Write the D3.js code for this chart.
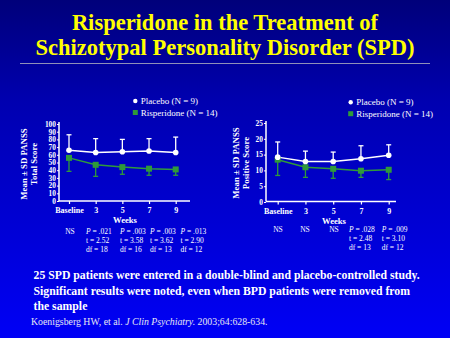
<!DOCTYPE html>
<html>
<head>
<meta charset="utf-8">
<script src="https://cdn.jsdelivr.net/npm/d3@7"></script>
<style>
  html, body { margin: 0; padding: 0; background: #00007a; }
  svg { display: block; }
  text { font-family: "Liberation Serif", "Times New Roman", serif; }
</style>
</head>
<body>
<svg id="viz" width="450" height="338"></svg>
<script>
(function () {
  'use strict';

  // --- data ---
  var weeks = ['Baseline', '3', '5', '7', '9'];

  var totalPlacebo = [66, 63, 64, 65, 63];
  var totalPlaceboSD = [20, 18, 16, 16, 20];
  var totalRisp = [56, 47, 44, 42, 41];
  var totalRispSD = [17.5, 15, 9.3, 8.6, 7.6];
  var totalTicks = [0, 10, 20, 30, 40, 50, 60, 70, 80, 90, 100];
  var totalStats = [['NS'], ['P = .021', 't = 2.52', 'df = 18'], ['P = .003', 't = 3.58', 'df = 16'],
    ['P = .003', 't = 3.62', 'df = 13'], ['P = .013', 't = 2.90', 'df = 12']];

  var posPlacebo = [14.2, 12.8, 12.8, 13.7, 14.8];
  var posPlaceboSD = [4.8, 3.3, 3.0, 4.1, 3.3];
  var posRisp = [13.4, 11, 10.5, 9.9, 10.2];
  var posRispSD = [5.0, 3.2, 3.0, 2.1, 3.1];
  var posTicks = [0, 5, 10, 15, 20, 25];
  var posStats = [['NS'], ['NS'], ['NS'], ['P = .028', 't = 2.48', 'df = 13'], ['P = .009', 't = 3.10', 'df = 12']];

  var legendLabels = ['Placebo (N = 9)', 'Risperidone (N = 14)'];

  var serif = '"Liberation Serif", "Times New Roman", serif';
  var green = '#2f9a3a';
  var svg = d3.select('#viz');

  // background gradient
  var grad = svg.append('defs').append('linearGradient')
    .attr('id', 'bg').attr('x1', 0).attr('y1', 0).attr('x2', 0).attr('y2', 1);
  grad.append('stop').attr('offset', '0').attr('stop-color', '#00007a');
  grad.append('stop').attr('offset', '0.3').attr('stop-color', '#0000b0');
  grad.append('stop').attr('offset', '1').attr('stop-color', '#0000f6');
  svg.append('rect').attr('width', 450).attr('height', 338).attr('fill', 'url(#bg)');

  // title
  svg.append('text').attr('x', 225).attr('y', 30).attr('text-anchor', 'middle').attr('font-family', serif)
    .style('font-size', '22.5px').style('font-weight', 'bold').attr('fill', '#ffff00')
    .text('Risperidone in the Treatment of');
  svg.append('text').attr('x', 225).attr('y', 55).attr('text-anchor', 'middle').attr('font-family', serif)
    .style('font-size', '22.5px').style('font-weight', 'bold').attr('fill', '#ffff00')
    .text('Schizotypal Personality Disorder (SPD)');
  svg.append('line').attr('x1', 20).attr('x2', 430).attr('y1', 63.5).attr('y2', 63.5)
    .attr('stroke', '#9090b8').attr('stroke-width', 1);

  function drawChart(cfg) {
    var x = d3.scalePoint().domain(weeks).range([cfg.xFirst, cfg.xLast]);
    var y = d3.scaleLinear().domain([0, cfg.yMax]).range([cfg.bottom, cfg.top]);
    var g = svg.append('g');

    // y axis
    var ya = g.append('g').attr('transform', 'translate(' + cfg.left + ',0)')
      .call(d3.axisLeft(y).tickValues(cfg.ticks).tickSize(2).tickPadding(1));
    ya.select('.domain').remove();
    ya.selectAll('line').attr('stroke', '#fff');
    ya.selectAll('text').attr('fill', '#fff').style('font-size', '7.4px').style('font-weight', 'bold')
      .attr('font-family', serif);

    // x axis
    var xa = g.append('g').attr('transform', 'translate(0,' + cfg.axisY + ')')
      .call(d3.axisBottom(x).tickSize(3).tickPadding(cfg.tickPad));
    xa.select('.domain').remove();
    xa.selectAll('line').attr('stroke', '#fff').attr('stroke-width', 1.2);
    xa.selectAll('text').attr('fill', '#fff').style('font-size', '8px').style('font-weight', 'bold')
      .attr('font-family', serif);

    g.append('line').attr('x1', cfg.left).attr('x2', cfg.left).attr('y1', cfg.top - 2).attr('y2', cfg.axisY)
      .attr('stroke', '#fff').attr('stroke-width', 1.5);
    g.append('line').attr('x1', cfg.left).attr('x2', cfg.right).attr('y1', cfg.axisY).attr('y2', cfg.axisY)
      .attr('stroke', '#fff').attr('stroke-width', 1.5);

    g.append('text').attr('x', cfg.weeksX).attr('y', cfg.axisY + 22).attr('text-anchor', 'middle')
      .attr('font-family', serif).attr('fill', '#fff').style('font-size', '8.6px').style('font-weight', 'bold')
      .text('Weeks');

    // y title
    var yt = g.append('text').attr('transform', 'translate(' + cfg.ytX + ',' + cfg.ytY + ') rotate(-90)')
      .attr('font-family', serif).attr('text-anchor', 'middle').attr('fill', '#fff')
      .style('font-size', '8.8px').style('font-weight', 'bold');
    yt.append('tspan').attr('x', 0).attr('dy', 0).text('Mean \u00b1 SD PANSS');
    yt.append('tspan').attr('x', 0).attr('dy', 10).text(cfg.yTitle);

    // error bars
    function errBars(means, sds, dir, color) {
      var eb = g.append('g').selectAll('g').data(means).enter().append('g');
      eb.append('line')
        .attr('x1', function (d, i) { return x(weeks[i]); })
        .attr('x2', function (d, i) { return x(weeks[i]); })
        .attr('y1', function (d) { return y(d); })
        .attr('y2', function (d, i) { return y(d + dir * sds[i]); })
        .attr('stroke', color).attr('stroke-width', 1.3);
      eb.append('line')
        .attr('x1', function (d, i) { return x(weeks[i]) - 2.5; })
        .attr('x2', function (d, i) { return x(weeks[i]) + 2.5; })
        .attr('y1', function (d, i) { return y(d + dir * sds[i]); })
        .attr('y2', function (d, i) { return y(d + dir * sds[i]); })
        .attr('stroke', color).attr('stroke-width', 1.3);
    }
    errBars(cfg.placebo, cfg.placeboSD, 1, '#fff');
    errBars(cfg.risp, cfg.rispSD, -1, green);

    var line = d3.line()
      .x(function (d, i) { return x(weeks[i]); })
      .y(function (d) { return y(d); });

    g.append('path').datum(cfg.risp).attr('d', line).attr('fill', 'none')
      .attr('stroke', green).attr('stroke-width', 1.5);
    g.append('path').datum(cfg.placebo).attr('d', line).attr('fill', 'none')
      .attr('stroke', '#fff').attr('stroke-width', 1.5);

    g.append('g').selectAll('rect').data(cfg.risp).enter().append('rect')
      .attr('x', function (d, i) { return x(weeks[i]) - 3; })
      .attr('y', function (d) { return y(d) - 3; })
      .attr('width', 6).attr('height', 6).attr('fill', green);
    g.append('g').selectAll('circle').data(cfg.placebo).enter().append('circle')
      .attr('cx', function (d, i) { return x(weeks[i]); })
      .attr('cy', function (d) { return y(d); })
      .attr('r', 2.8).attr('fill', '#fff');

    // legend
    var lg = g.append('g');
    lg.append('circle').attr('cx', cfg.legX).attr('cy', cfg.legY).attr('r', 2.2).attr('fill', '#fff');
    lg.append('rect').attr('x', cfg.legX - 2.5).attr('y', cfg.legY + 11.5 - 2.5).attr('width', 5).attr('height', 5)
      .attr('fill', green);
    lg.selectAll('text').data(legendLabels).enter().append('text')
      .attr('x', cfg.legX + 5.5).attr('y', function (d, i) { return cfg.legY + 3 + i * 11.5; })
      .attr('font-family', serif).attr('fill', '#fff').style('font-size', '9px').text(function (d) { return d; });

    // statistics under the chart
    var cols = g.append('g').selectAll('g').data(cfg.stats).enter().append('g');
    cols.each(function (d, i) {
      var col = d3.select(this);
      var anchor = d.length === 1 ? 'middle' : 'start';
      d.forEach(function (s, j) {
        var t = col.append('text').attr('x', cfg.statsX[i]).attr('y', cfg.statsY + j * 9)
          .attr('font-family', serif).attr('text-anchor', anchor).attr('fill', '#fff').style('font-size', '7.5px');
        if (s.indexOf('P') === 0) {
          t.append('tspan').style('font-style', 'italic').text('P');
          t.append('tspan').text(s.slice(1));
        } else {
          t.text(s);
        }
      });
    });
  }

  drawChart({
    left: 59, right: 190, top: 124, bottom: 201, axisY: 201,
    xFirst: 69, xLast: 175.7, yMax: 100, ticks: totalTicks, tickPad: 3,
    weeksX: 125, ytX: 27, ytY: 164, yTitle: 'Total Score',
    placebo: totalPlacebo, placeboSD: totalPlaceboSD, risp: totalRisp, rispSD: totalRispSD,
    legX: 135.3, legY: 101, stats: totalStats,
    statsX: [70, 86, 120, 150, 180.5], statsY: 233.5
  });

  drawChart({
    left: 266, right: 396, top: 123, bottom: 202, axisY: 201.5,
    xFirst: 277.7, xLast: 388.7, yMax: 25, ticks: posTicks, tickPad: 4,
    weeksX: 334, ytX: 239, ytY: 163, yTitle: 'Positive Score',
    placebo: posPlacebo, placeboSD: posPlaceboSD, risp: posRisp, rispSD: posRispSD,
    legX: 350.7, legY: 102.2, stats: posStats,
    statsX: [278, 305, 334, 349, 381.7], statsY: 231.5
  });

  // note text
  var note = ['25 SPD patients were entered in a double-blind and placebo-controlled study.',
    'Significant results were noted, even when BPD patients were removed from',
    'the sample'];
  svg.append('g').selectAll('text').data(note).enter().append('text')
    .attr('x', 33.5).attr('y', function (d, i) { return 279 + i * 15.5; })
    .attr('font-family', serif).attr('fill', '#fff').style('font-size', '11.75px').style('font-weight', 'bold')
    .text(function (d) { return d; });

  var cite = svg.append('text').attr('x', 31).attr('y', 325).attr('font-family', serif)
    .attr('fill', '#e6e6f2').style('font-size', '9.8px');
  cite.append('tspan').text('Koenigsberg HW, et al. ');
  cite.append('tspan').style('font-style', 'italic').text('J Clin Psychiatry.');
  cite.append('tspan').text(' 2003;64:628-634.');
}());
</script>
</body>
</html>
